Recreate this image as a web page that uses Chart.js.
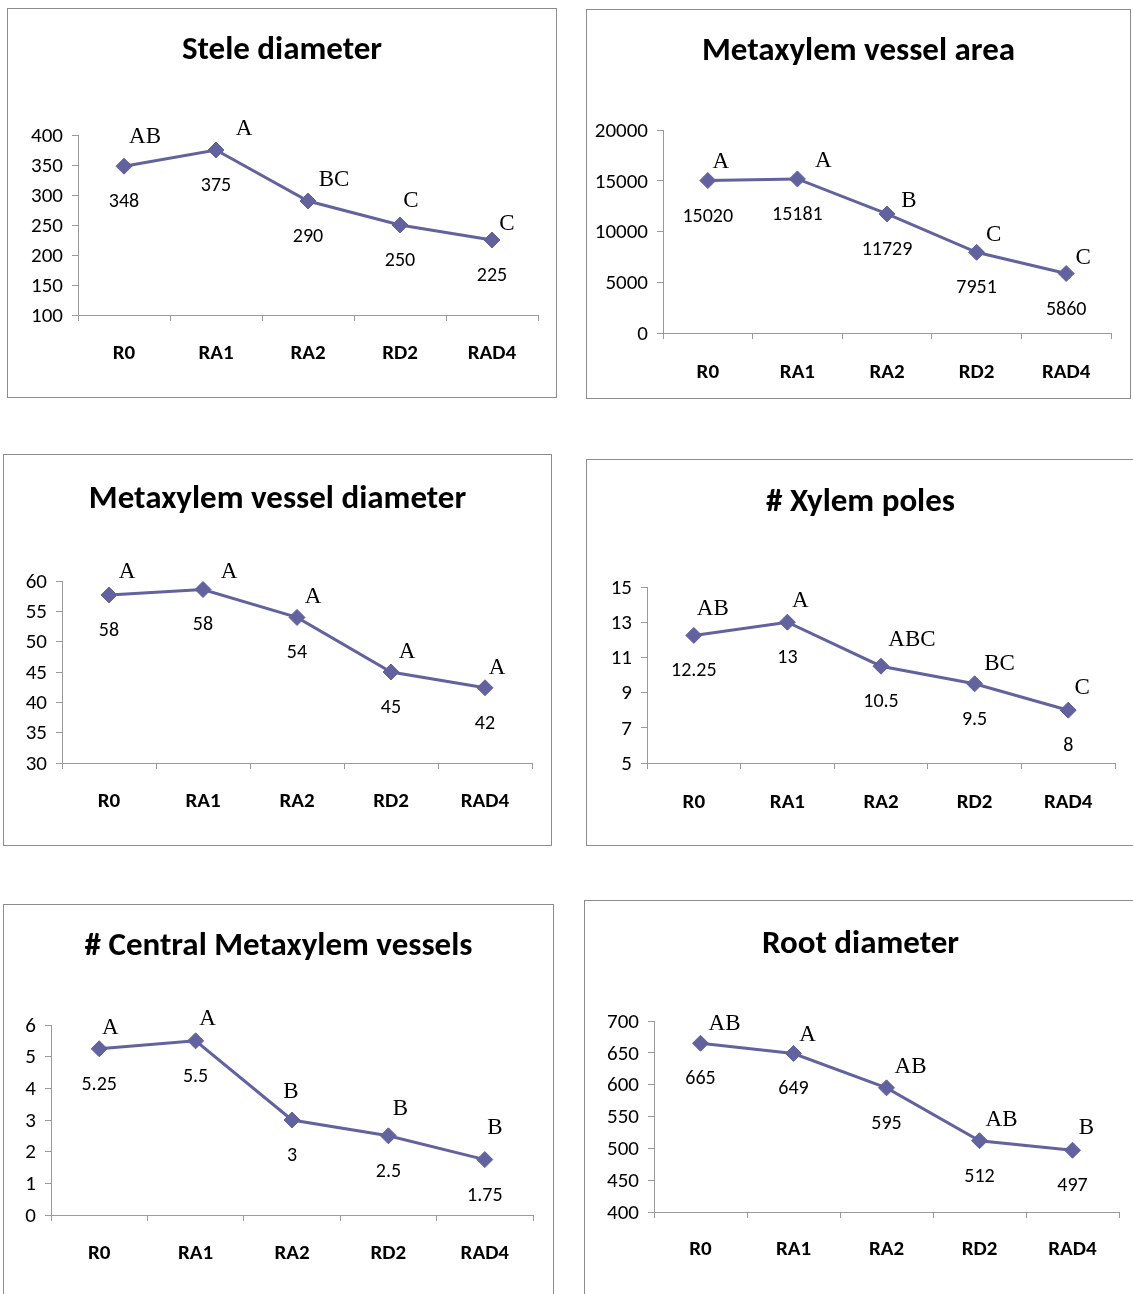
<!DOCTYPE html>
<html>
<head>
<meta charset="utf-8">
<script src="https://cdn.jsdelivr.net/npm/chart.js@4.4.1/dist/chart.umd.min.js"></script>
<style>
  html, body { margin: 0; padding: 0; background: #fff; }
  #page { position: relative; width: 1133px; height: 1294px; overflow: hidden; background: #fff; }
  .frame { position: absolute; border: 1px solid #8c8c8c; box-sizing: border-box; }
  .holder { position: absolute; }
  canvas { display: block; }
</style>
</head>
<body>
<div id="page"></div>
<script>
// ---------------- DATA ----------------
const categories = ['R0', 'RA1', 'RA2', 'RD2', 'RAD4'];

const steleValues   = [348, 375, 290, 250, 225];
const steleLetters  = ['AB', 'A', 'BC', 'C', 'C'];
const steleTicks    = { min: 100, max: 400, step: 50 };

const areaValues    = [15020, 15181, 11729, 7951, 5860];
const areaLetters   = ['A', 'A', 'B', 'C', 'C'];
const areaTicks     = { min: 0, max: 20000, step: 5000 };

const diamValues    = [57.7, 58.6, 54.0, 45.0, 42.4];
const diamLabels    = ['58', '58', '54', '45', '42'];
const diamLetters   = ['A', 'A', 'A', 'A', 'A'];
const diamTicks     = { min: 30, max: 60, step: 5 };

const polesValues   = [12.25, 13, 10.5, 9.5, 8];
const polesLetters  = ['AB', 'A', 'ABC', 'BC', 'C'];
const polesTicks    = { min: 5, max: 15, step: 2 };

const centralValues = [5.25, 5.5, 3, 2.5, 1.75];
const centralLetters= ['A', 'A', 'B', 'B', 'B'];
const centralTicks  = { min: 0, max: 6, step: 1 };

const rootValues    = [665, 649, 595, 512, 497];
const rootLetters   = ['AB', 'A', 'AB', 'AB', 'B'];
const rootTicks     = { min: 400, max: 700, step: 50 };

// ---------------- LAYOUT / STYLE ----------------
const SANS = 'Carlito, Calibri, Lato, sans-serif';
const SERIF = '"Liberation Serif", "Times New Roman", serif';
const LINE = '#62629f';
const AXIS = '#9a9a9a';
const TITLE_SIZE = 33, TICK_SIZE = 21, CAT_SIZE = 21, VALUE_SIZE = 20, LETTER_SIZE = 23;

const panels = [
  { title: 'Stele diameter', values: steleValues, letters: steleLetters, ticks: steleTicks,
    box: { left: 7, top: 8, w: 550, h: 390 },
    axisX: 78, axisEnd: 538, plotTop: 135, plotBottom: 315, titleY: 51, catY: 354,
    dx: [21, 28, 26, 11, 15], dy: [-29, -21, -21, -24, -16] },
  { title: 'Metaxylem vessel area', values: areaValues, letters: areaLetters, ticks: areaTicks,
    box: { left: 586, top: 9, w: 545, h: 390 },
    axisX: 663, axisEnd: 1111, plotTop: 130, plotBottom: 333, titleY: 52, catY: 373,
    dx: [13, 26, 22, 17, 17], dy: [-19, -18, -13, -17, -16] },
  { title: 'Metaxylem vessel diameter', values: diamValues, labels: diamLabels, letters: diamLetters, ticks: diamTicks,
    box: { left: 3, top: 454, w: 549, h: 392 },
    axisX: 62, axisEnd: 532, plotTop: 581, plotBottom: 763, titleY: 500, catY: 802,
    dx: [18, 26, 16, 16, 12], dy: [-23, -18, -20, -20, -20] },
  { title: '# Xylem poles', values: polesValues, letters: polesLetters, ticks: polesTicks,
    box: { left: 586, top: 459, w: 549, h: 387 },
    axisX: 647, axisEnd: 1115, plotTop: 587, plotBottom: 763, titleY: 503, catY: 803,
    dx: [19, 13, 31, 25, 14], dy: [-26, -21, -26, -20, -22] },
  { title: '# Central Metaxylem vessels', values: centralValues, letters: centralLetters, ticks: centralTicks,
    box: { left: 3, top: 904, w: 551, h: 400 },
    axisX: 51, axisEnd: 533, plotTop: 1025, plotBottom: 1215, titleY: 947, catY: 1254,
    dx: [11, 12, -1, 12, 10], dy: [-21, -22, -28, -27, -32] },
  { title: 'Root diameter', values: rootValues, letters: rootLetters, ticks: rootTicks,
    box: { left: 584, top: 900, w: 553, h: 400 },
    axisX: 654, axisEnd: 1119, plotTop: 1021, plotBottom: 1212, titleY: 945, catY: 1250,
    dx: [24, 14, 24, 22, 14], dy: [-19, -19, -21, -21, -22] }
];

// Plugin: value under each point, significance letter above-right
const annotPlugin = {
  id: 'annot',
  afterDatasetsDraw(chart, args, opts) {
    const meta = chart.getDatasetMeta(0);
    const ctx = chart.ctx;
    ctx.save();
    ctx.fillStyle = '#000';
    ctx.textAlign = 'center';
    ctx.textBaseline = 'middle';
    meta.data.forEach((pt, i) => {
      ctx.font = VALUE_SIZE + 'px ' + SANS;
      ctx.fillText(opts.values[i], pt.x, pt.y + opts.valueGap);
      ctx.font = LETTER_SIZE + 'px ' + SERIF;
      ctx.fillText(opts.letters[i], pt.x + opts.dx[i], pt.y + opts.dy[i]);
    });
    ctx.restore();
  }
};

const page = document.getElementById('page');

panels.forEach((p) => {
  const b = p.box;
  const frame = document.createElement('div');
  frame.className = 'frame';
  Object.assign(frame.style, { left: b.left + 'px', top: b.top + 'px', width: b.w + 'px', height: b.h + 'px' });
  page.appendChild(frame);

  const holder = document.createElement('div');
  holder.className = 'holder';
  Object.assign(holder.style, { left: b.left + 'px', top: b.top + 'px', width: b.w + 'px', height: b.h + 'px' });
  const canvas = document.createElement('canvas');
  canvas.width = b.w; canvas.height = b.h;
  canvas.style.width = b.w + 'px'; canvas.style.height = b.h + 'px';
  holder.appendChild(canvas);
  page.appendChild(holder);

  const axisX = p.axisX - b.left;
  const axisEnd = p.axisEnd - b.left;
  const plotTop = p.plotTop - b.top;
  const plotBottom = p.plotBottom - b.top;
  const titleY = p.titleY - b.top;
  const catY = p.catY - b.top;
  const titleLH = Math.round(TITLE_SIZE * 1.2);
  const tickLen = 6;
  const rightGap = b.w - axisEnd;

  new Chart(canvas, {
    type: 'line',
    data: {
      labels: categories,
      datasets: [{
        data: p.values,
        borderColor: LINE,
        backgroundColor: LINE,
        borderWidth: 3,
        pointStyle: 'rectRot',
        pointRadius: 8,
        pointBackgroundColor: LINE,
        pointBorderColor: LINE,
        pointBorderWidth: 1,
        tension: 0,
        clip: false
      }]
    },
    options: {
      responsive: false,
      animation: false,
      events: [],
      devicePixelRatio: 1,
      layout: { padding: 0 },
      plugins: {
        legend: { display: false },
        tooltip: { enabled: false },
        title: {
          display: true,
          text: p.title,
          color: '#000',
          font: { family: SANS, size: TITLE_SIZE, weight: 'bold', lineHeight: titleLH / TITLE_SIZE },
          padding: { top: titleY - titleLH / 2, bottom: plotTop - titleY - titleLH / 2 }
        },
        annot: {
          values: p.labels || p.values.map(v => String(v)),
          letters: p.letters,
          dx: p.dx, dy: p.dy,
          valueGap: 36
        }
      },
      scales: {
        x: {
          type: 'category',
          offset: true,
          grid: { offset: true, drawOnChartArea: false, drawTicks: true, tickLength: tickLen, color: AXIS },
          border: { display: true, color: AXIS, width: 1 },
          ticks: {
            color: '#000',
            font: { family: SANS, size: CAT_SIZE, weight: 'bold' },
            padding: (catY - plotBottom) - tickLen - CAT_SIZE * 1.2 / 2,
            autoSkip: false, maxRotation: 0
          },
          afterFit(scale) { scale.height = b.h - plotBottom; }
        },
        y: {
          min: p.ticks.min, max: p.ticks.max,
          grid: { drawOnChartArea: false, drawTicks: true, tickLength: tickLen, color: AXIS },
          border: { display: true, color: AXIS, width: 1 },
          ticks: {
            stepSize: p.ticks.step,
            color: '#000',
            font: { family: SANS, size: TICK_SIZE },
            padding: 9,
            labelOffset: 1.5,
            callback: v => String(v)
          },
          afterFit(scale) { scale.width = axisX; }
        },
        // empty spacer on the right so the plot ends where the reference's does
        spacer: {
          type: 'linear',
          position: 'right',
          display: true,
          min: 0, max: 1,
          grid: { display: false },
          border: { display: false },
          ticks: { display: false },
          afterFit(scale) { scale.width = rightGap; }
        }
      }
    },
    plugins: [annotPlugin]
  });
});
</script>
</body>
</html>
